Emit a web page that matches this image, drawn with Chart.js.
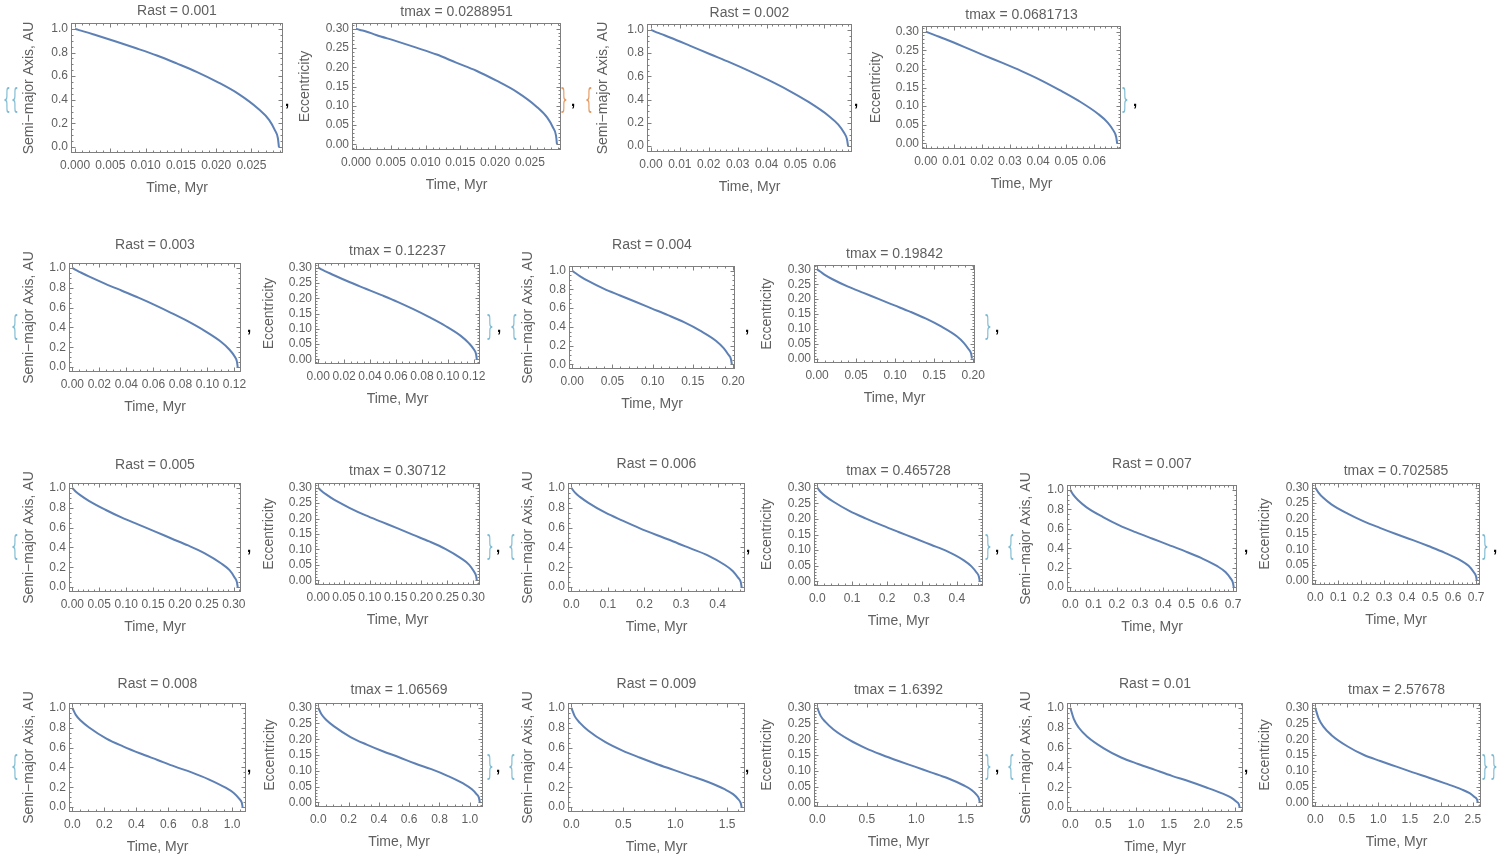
<!DOCTYPE html>
<html><head><meta charset="utf-8">
<script src="https://cdn.jsdelivr.net/npm/chart.js@4.4.1/dist/chart.umd.min.js"></script>
<style>
html,body{margin:0;padding:0;background:#fff;}
body{width:1509px;height:867px;overflow:hidden;position:relative;font-family:"Liberation Sans",Arial,sans-serif;}
canvas{position:absolute;}
.b{position:absolute;font-family:"DejaVu Sans",sans-serif;font-size:29px;line-height:1;transform:translate(-50%,-50%) scaleX(0.42);font-weight:400;}
.t{color:#7fbcd3;}
.o{color:#e59a62;}
.c{position:absolute;font-family:"Liberation Sans",Arial,sans-serif;font-weight:bold;font-size:15px;line-height:1;color:#000;transform:translate(-50%,-50%);}
</style></head><body>
<script>
// ---------- DATA ----------
const rastValues = [0.001, 0.002, 0.003, 0.004, 0.005, 0.006, 0.007, 0.008, 0.009, 0.01];
const rastLabels = ["0.001","0.002","0.003","0.004","0.005","0.006","0.007","0.008","0.009","0.01"];
const tmaxValues = [0.0288951, 0.0681713, 0.12237, 0.19842, 0.30712, 0.465728, 0.702585, 1.06569, 1.6392, 2.57678];
const tmaxLabels = ["0.0288951","0.0681713","0.12237","0.19842","0.30712","0.465728","0.702585","1.06569","1.6392","2.57678"];

const time1 = [0, 0.000578, 0.00144, 0.00289, 0.00578, 0.00867, 0.0116, 0.0144, 0.0173, 0.0202, 0.0231, 0.026, 0.0275, 0.0283, 0.02875, 0.0288951];
const time2 = [0, 0.00136, 0.00341, 0.00682, 0.0136, 0.0205, 0.0273, 0.0341, 0.0409, 0.0477, 0.0545, 0.0614, 0.0648, 0.0668, 0.0678, 0.0681713];
const time3 = [0, 0.00245, 0.00612, 0.0122, 0.0245, 0.0367, 0.0489, 0.0612, 0.0734, 0.0857, 0.0979, 0.110, 0.116, 0.120, 0.1218, 0.12237];
const time4 = [0, 0.00397, 0.00992, 0.0198, 0.0397, 0.0595, 0.0794, 0.0992, 0.119, 0.139, 0.159, 0.179, 0.188, 0.194, 0.1974, 0.19842];
const time5 = [0, 0.00614, 0.0154, 0.0307, 0.0614, 0.0921, 0.123, 0.154, 0.184, 0.215, 0.246, 0.276, 0.292, 0.301, 0.3056, 0.30712];
const time6 = [0, 0.00931, 0.0233, 0.0466, 0.0931, 0.140, 0.186, 0.233, 0.279, 0.326, 0.373, 0.419, 0.442, 0.456, 0.4634, 0.465728];
const time7 = [0, 0.0141, 0.0351, 0.0703, 0.141, 0.211, 0.281, 0.351, 0.422, 0.492, 0.562, 0.632, 0.667, 0.689, 0.6991, 0.702585];
const time8 = [0, 0.0213, 0.0533, 0.107, 0.213, 0.320, 0.426, 0.533, 0.639, 0.746, 0.853, 0.959, 1.012, 1.044, 1.0604, 1.06569];
const time9 = [0, 0.0328, 0.0820, 0.164, 0.328, 0.492, 0.656, 0.820, 0.984, 1.147, 1.311, 1.475, 1.557, 1.606, 1.631, 1.6392];
const time10 = [0, 0.0515, 0.129, 0.258, 0.515, 0.773, 1.031, 1.288, 1.546, 1.804, 2.061, 2.319, 2.448, 2.525, 2.564, 2.57678];

const semiMajor1 = [1, 0.99, 0.975, 0.948, 0.893, 0.836, 0.775, 0.708, 0.635, 0.55, 0.452, 0.322, 0.23, 0.145, 0.075, 0];
const semiMajor2 = [1, 0.985, 0.965, 0.932, 0.862, 0.79, 0.72, 0.645, 0.565, 0.478, 0.38, 0.262, 0.185, 0.115, 0.06, 0];
const semiMajor3 = [1, 0.98, 0.955, 0.915, 0.84, 0.77, 0.70, 0.625, 0.545, 0.46, 0.365, 0.255, 0.18, 0.11, 0.055, 0];
const semiMajor4 = [1, 0.975, 0.94, 0.89, 0.805, 0.735, 0.665, 0.595, 0.525, 0.45, 0.36, 0.25, 0.175, 0.105, 0.055, 0];
const semiMajor5 = [1, 0.965, 0.925, 0.87, 0.78, 0.70, 0.63, 0.56, 0.49, 0.42, 0.34, 0.24, 0.17, 0.10, 0.05, 0];
const semiMajor6 = [1, 0.955, 0.91, 0.85, 0.75, 0.67, 0.595, 0.525, 0.46, 0.39, 0.32, 0.225, 0.16, 0.095, 0.05, 0];
const semiMajor7 = [1, 0.945, 0.89, 0.82, 0.72, 0.635, 0.565, 0.50, 0.435, 0.37, 0.30, 0.215, 0.155, 0.09, 0.045, 0];
const semiMajor8 = [1, 0.93, 0.87, 0.80, 0.69, 0.61, 0.54, 0.475, 0.41, 0.35, 0.28, 0.195, 0.14, 0.085, 0.045, 0];
const semiMajor9 = [1, 0.915, 0.85, 0.77, 0.655, 0.57, 0.50, 0.435, 0.375, 0.315, 0.255, 0.18, 0.13, 0.08, 0.04, 0];
const semiMajor10 = [1, 0.89, 0.80, 0.71, 0.59, 0.50, 0.435, 0.375, 0.315, 0.26, 0.20, 0.135, 0.095, 0.055, 0.03, 0];

const ecc1 = [0.3, 0.297, 0.293, 0.284, 0.268, 0.251, 0.233, 0.212, 0.191, 0.165, 0.136, 0.097, 0.069, 0.044, 0.023, 0];
const ecc2 = [0.3, 0.296, 0.29, 0.28, 0.259, 0.237, 0.216, 0.194, 0.17, 0.143, 0.114, 0.079, 0.056, 0.035, 0.018, 0];
const ecc3 = [0.3, 0.294, 0.287, 0.275, 0.252, 0.231, 0.21, 0.188, 0.164, 0.138, 0.11, 0.077, 0.054, 0.033, 0.017, 0];
const ecc4 = [0.3, 0.293, 0.282, 0.267, 0.242, 0.221, 0.2, 0.179, 0.158, 0.135, 0.108, 0.075, 0.053, 0.032, 0.017, 0];
const ecc5 = [0.3, 0.29, 0.278, 0.261, 0.234, 0.21, 0.189, 0.168, 0.147, 0.126, 0.102, 0.072, 0.051, 0.03, 0.015, 0];
const ecc6 = [0.3, 0.287, 0.273, 0.255, 0.225, 0.201, 0.179, 0.158, 0.138, 0.117, 0.096, 0.068, 0.048, 0.029, 0.015, 0];
const ecc7 = [0.3, 0.284, 0.267, 0.246, 0.216, 0.191, 0.17, 0.15, 0.131, 0.111, 0.09, 0.065, 0.047, 0.027, 0.014, 0];
const ecc8 = [0.3, 0.279, 0.261, 0.24, 0.207, 0.183, 0.162, 0.143, 0.123, 0.105, 0.084, 0.059, 0.042, 0.026, 0.014, 0];
const ecc9 = [0.3, 0.275, 0.255, 0.231, 0.197, 0.171, 0.15, 0.131, 0.113, 0.095, 0.077, 0.054, 0.039, 0.024, 0.012, 0];
const ecc10 = [0.3, 0.267, 0.24, 0.213, 0.177, 0.15, 0.131, 0.113, 0.095, 0.078, 0.06, 0.041, 0.029, 0.017, 0.009, 0];

const xTicks1 = [0, 0.005, 0.01, 0.015, 0.02, 0.025];
const xTicks2 = [0, 0.01, 0.02, 0.03, 0.04, 0.05, 0.06];
const xTicks3 = [0, 0.02, 0.04, 0.06, 0.08, 0.1, 0.12];
const xTicks4 = [0, 0.05, 0.1, 0.15, 0.2];
const xTicks5 = [0, 0.05, 0.1, 0.15, 0.2, 0.25, 0.3];
const xTicks6 = [0, 0.1, 0.2, 0.3, 0.4];
const xTicks7 = [0, 0.1, 0.2, 0.3, 0.4, 0.5, 0.6, 0.7];
const xTicks8 = [0, 0.2, 0.4, 0.6, 0.8, 1.0];
const xTicks9 = [0, 0.5, 1.0, 1.5];
const xTicks10 = [0, 0.5, 1.0, 1.5, 2.0, 2.5];
const xTickDigits = [3, 2, 2, 2, 2, 1, 1, 1, 1, 1];
const semiMajorTicks = [0, 0.2, 0.4, 0.6, 0.8, 1.0];
const eccTicks = [0, 0.05, 0.1, 0.15, 0.2, 0.25, 0.3];

const times = [time1,time2,time3,time4,time5,time6,time7,time8,time9,time10];
const semiMajors = [semiMajor1,semiMajor2,semiMajor3,semiMajor4,semiMajor5,semiMajor6,semiMajor7,semiMajor8,semiMajor9,semiMajor10];
const eccs = [ecc1,ecc2,ecc3,ecc4,ecc5,ecc6,ecc7,ecc8,ecc9,ecc10];
const xTicksAll = [xTicks1,xTicks2,xTicks3,xTicks4,xTicks5,xTicks6,xTicks7,xTicks8,xTicks9,xTicks10];

// ---------- LAYOUT (frame rect: left, top, width, height) ----------
const panels = [
  {k:'a', r:0, f:[71,23,212,130], to:12, yo:42},
  {k:'e', r:0, f:[352,23,209,127], to:11, yo:47},
  {k:'a', r:1, f:[647,24,205,128], to:11, yo:44},
  {k:'e', r:1, f:[922,26,199,123], to:11, yo:46},
  {k:'a', r:2, f:[69,263,172,109], to:18, yo:40},
  {k:'e', r:2, f:[315,263,165,101], to:12, yo:46},
  {k:'a', r:3, f:[569,266,166,103], to:21, yo:41},
  {k:'e', r:3, f:[814,265,161,98], to:11, yo:47},
  {k:'a', r:4, f:[69,483,172,109], to:18, yo:40},
  {k:'e', r:4, f:[315,483,165,102], to:12, yo:46},
  {k:'a', r:5, f:[568,483,177,109], to:19, yo:40},
  {k:'e', r:5, f:[814,483,169,103], to:12, yo:47},
  {k:'a', r:6, f:[1067,485,170,107], to:21, yo:41},
  {k:'e', r:6, f:[1312,483,168,102], to:12, yo:47},
  {k:'a', r:7, f:[69,703,177,109], to:19, yo:40},
  {k:'e', r:7, f:[315,703,168,104], to:13, yo:45},
  {k:'a', r:8, f:[568,703,177,109], to:19, yo:40},
  {k:'e', r:8, f:[814,703,169,104], to:13, yo:47},
  {k:'a', r:9, f:[1067,703,176,109], to:19, yo:41},
  {k:'e', r:9, f:[1312,703,169,104], to:13, yo:47}
];

const FONT = '"Liberation Sans", Arial, sans-serif';
const TXT = '#5f5f5f';
const FRAME = '#7f7f7f';
const LINE = '#5E81B5';

function minorStep(ticks){
  const step = ticks[1]-ticks[0];
  const p = Math.pow(10, Math.floor(Math.log10(step)+1e-9));
  const m = Math.round(step/p);
  return m === 2 ? step/4 : step/5;
}

const framePlugin = {
  id:'mframe',
  afterDraw(chart, args, opts){
    const ctx = chart.ctx;
    const {left, top, right, bottom} = chart.chartArea;
    const xs = chart.scales.x, ys = chart.scales.y;
    ctx.save();
    ctx.strokeStyle = FRAME; ctx.lineWidth = 1;
    const L = Math.round(left)+0.5, T = Math.round(top)+0.5, R = Math.round(right)-0.5, B = Math.round(bottom)-0.5;
    ctx.strokeRect(L, T, R-L, B-T);
    ctx.beginPath();
    function xt(v, len){ const px = Math.round(xs.getPixelForValue(v))+0.5; if(px<L||px>R) return; ctx.moveTo(px,B); ctx.lineTo(px,B-len); ctx.moveTo(px,T); ctx.lineTo(px,T+len); }
    function yt(v, len){ const py = Math.round(ys.getPixelForValue(v))+0.5; if(py<T||py>B) return; ctx.moveTo(L,py); ctx.lineTo(L+len,py); ctx.moveTo(R,py); ctx.lineTo(R-len,py); }
    const xT = opts.xTicks, yT = opts.yTicks;
    const xm = minorStep(xT), ym = minorStep(yT);
    for(let k=Math.ceil(xs.min/xm-1e-6); k*xm<=xs.max+1e-12; k++){ const v=k*xm; const major = xT.some(t=>Math.abs(t-v)<xm*1e-3); xt(v, major?4:2); }
    for(let k=Math.ceil(ys.min/ym-1e-6); k*ym<=ys.max+1e-12; k++){ const v=k*ym; const major = yT.some(t=>Math.abs(t-v)<ym*1e-3); yt(v, major?4:2); }
    ctx.stroke();
    ctx.fillStyle = TXT;
    ctx.font = '14px ' + FONT;
    ctx.textAlign = 'center'; ctx.textBaseline = 'middle';
    ctx.fillText(opts.text, (left+right)/2, top - opts.off);
    ctx.restore();
  }
};

const ML = 60, MT = 30, MR = 22, MB = 50;
panels.forEach(p => {
  const [fx, fy, fw, fh] = p.f;
  const W = fw + ML + MR, H = fh + MT + MB;
  const cv = document.createElement('canvas');
  cv.width = W; cv.height = H;
  cv.style.left = (fx-ML)+'px'; cv.style.top = (fy-MT)+'px';
  cv.style.width = W+'px'; cv.style.height = H+'px';
  document.body.appendChild(cv);
  const r = p.r;
  const tm = tmaxValues[r];
  const isA = p.k === 'a';
  const ys = isA ? semiMajors[r] : eccs[r];
  const yTicks = isA ? semiMajorTicks : eccTicks;
  const ymax = isA ? 1 : 0.3;
  const xTicks = xTicksAll[r];
  const dig = xTickDigits[r];
  new Chart(cv, {
    type:'line',
    data:{datasets:[{
      data: times[r].map((t,i)=>({x:t, y:ys[i]})),
      borderColor: LINE, borderWidth: 2, pointRadius: 0, fill:false,
      cubicInterpolationMode:'monotone'
    }]},
    options:{
      responsive:false, animation:false, devicePixelRatio:1,
      layout:{padding:{top:MT, right:MR, left:0, bottom:0}},
      plugins:{
        legend:{display:false}, tooltip:{enabled:false},
        mframe:{text: isA ? ('Rast = ' + rastLabels[r]) : ('tmax = ' + tmaxLabels[r]), off:p.to, xTicks:xTicks, yTicks:yTicks}
      },
      scales:{
        x:{
          type:'linear', min:-0.02*tm, max:1.02*tm,
          afterBuildTicks: s => { s.ticks = xTicks.map(v=>({value:v})); },
          afterFit: s => { s.height = MB; },
          grid:{display:false, drawTicks:false}, border:{display:false},
          ticks:{autoSkip:false, maxRotation:0, minRotation:0, padding:5, color:TXT, font:{family:FONT, size:12},
                 callback: v => Number(v).toFixed(dig)},
          title:{display:true, text:'Time, Myr', color:TXT, font:{family:FONT, size:14}, padding:{top:0, bottom:6}}
        },
        y:{
          type:'linear', min:-0.05*ymax, max:1.05*ymax,
          afterBuildTicks: s => { s.ticks = yTicks.map(v=>({value:v})); },
          afterFit: s => { s.width = ML; },
          grid:{display:false, drawTicks:false}, border:{display:false},
          ticks:{autoSkip:false, padding:3, color:TXT, font:{family:FONT, size:12},
                 callback: v => Number(v).toFixed(isA ? 1 : 2)},
          title:{display:true, text: isA ? 'Semi\u2212major Axis, AU' : 'Eccentricity', color:TXT, font:{family:FONT, size:14},
                 padding:{top: Math.max(0, ML - p.yo - 8.4), bottom:0}}
        }
      }
    },
    plugins:[framePlugin]
  });
});

// ---------- braces and commas ----------
const marks = [
  ['b t',7,99,'{'],['b t',15,99,'{'],['c',287,100,','],['b o',564,99,'}'],['c',573,100,','],['b o',589,99,'{'],['c',856,100,','],['b t',1125,99,'}'],['c',1135,100,','],
  ['b t',15,326,'{'],['c',249,326,','],['b t',490,326,'}'],['c',499,326,','],['b t',514,326,'{'],['c',747,326,','],['b t',988,326,'}'],['c',997,326,','],
  ['b t',15,546,'{'],['c',249,546,','],['b t',490,546,'}'],['c',498,546,','],['b t',512,546,'{'],['c',748,546,','],['b t',988,546,'}'],['c',997,546,','],['b t',1011,546,'{'],['c',1246,546,','],['b t',1485,546,'}'],['c',1495,546,','],
  ['b t',15,766,'{'],['c',249,766,','],['b t',490,766,'}'],['c',498,766,','],['b t',512,766,'{'],['c',747,766,','],['b t',988,766,'}'],['c',997,766,','],['b t',1011,766,'{'],['c',1246,766,','],['b t',1485,766,'}'],['b t',1494,766,'}']
];
marks.forEach(m => {
  const s = document.createElement('span');
  s.className = m[0]; s.style.left = m[1]+'px'; s.style.top = m[2]+'px'; s.textContent = m[3];
  document.body.appendChild(s);
});
</script>
</body></html>
